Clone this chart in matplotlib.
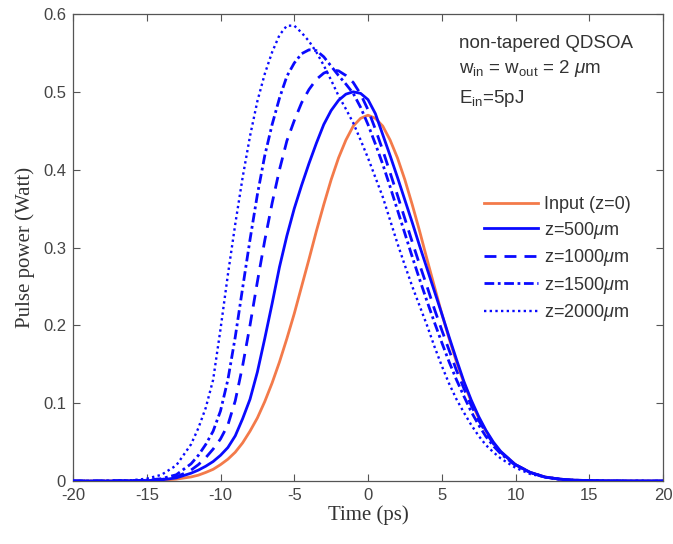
import matplotlib
matplotlib.use("Agg")
import matplotlib.pyplot as plt

plt.rcParams['font.family'] = ['Liberation Sans', 'DejaVu Sans']
plt.rcParams['mathtext.fontset'] = 'custom'
plt.rcParams['mathtext.rm'] = 'Liberation Sans'
plt.rcParams['mathtext.it'] = 'Liberation Sans:italic'
plt.rcParams['mathtext.bf'] = 'Liberation Sans:bold'

# ---- data ----
time_ps = [-20, -18, -16, -15, -14, -13, -12, -11.5, -11, -10.5, -10, -9.5, -9, -8.5,
           -8, -7.5, -7, -6.5, -6, -5.5, -5, -4.5, -4, -3.5, -3, -2.5, -2, -1.5, -1,
           -0.5, 0, 0.5, 1, 1.5, 2, 2.5, 3, 3.5, 4, 4.5, 5, 5.5, 6, 6.5, 7, 7.5, 8,
           8.5, 9, 10, 11, 12, 13, 14, 16, 18, 20]

p_input = [0, 0, 0.0002, 0.0004, 0.001, 0.0024, 0.0052, 0.0075, 0.011, 0.015, 0.021,
           0.028, 0.037, 0.049, 0.064, 0.081, 0.102, 0.126, 0.153, 0.183, 0.215, 0.250,
           0.285, 0.321, 0.355, 0.387, 0.415, 0.438, 0.456, 0.466, 0.470, 0.466, 0.456,
           0.438, 0.415, 0.387, 0.355, 0.321, 0.285, 0.250, 0.215, 0.183, 0.153, 0.126,
           0.102, 0.081, 0.064, 0.049, 0.037, 0.021, 0.011, 0.0052, 0.0024, 0.001, 0.0002,
           0, 0]

p_z500 = [0, 0, 0.0003, 0.0005, 0.0015, 0.004, 0.010, 0.014, 0.019, 0.025, 0.033,
          0.043, 0.058, 0.080, 0.105, 0.140, 0.183, 0.228, 0.275, 0.315, 0.350, 0.380,
          0.408, 0.434, 0.458, 0.476, 0.489, 0.497, 0.500, 0.498, 0.490, 0.472, 0.445,
          0.418, 0.390, 0.361, 0.332, 0.302, 0.273, 0.244, 0.215, 0.185, 0.156, 0.128,
          0.104, 0.083, 0.065, 0.050, 0.038, 0.021, 0.011, 0.005, 0.0024, 0.001, 0.0002,
          0, 0]

p_z1000 = [0, 0, 0.0003, 0.0007, 0.002, 0.005, 0.014, 0.021, 0.030, 0.041, 0.054,
           0.072, 0.103, 0.148, 0.200, 0.256, 0.309, 0.357, 0.400, 0.437, 0.463, 0.486,
           0.503, 0.516, 0.524, 0.528, 0.527, 0.521, 0.512, 0.497, 0.477, 0.452, 0.425,
           0.396, 0.367, 0.337, 0.307, 0.278, 0.250, 0.221, 0.194, 0.168, 0.142, 0.119,
           0.097, 0.078, 0.062, 0.048, 0.037, 0.021, 0.011, 0.005, 0.0024, 0.001, 0.0002,
           0, 0]

p_z1500 = [0, 0, 0.0004, 0.001, 0.003, 0.008, 0.022, 0.033, 0.047, 0.064, 0.090,
           0.130, 0.185, 0.248, 0.310, 0.368, 0.418, 0.458, 0.492, 0.520, 0.537, 0.549,
           0.554, 0.553, 0.545, 0.533, 0.521, 0.510, 0.498, 0.480, 0.458, 0.433, 0.407,
           0.378, 0.348, 0.318, 0.288, 0.259, 0.231, 0.204, 0.178, 0.153, 0.130, 0.109,
           0.089, 0.072, 0.057, 0.045, 0.035, 0.020, 0.011, 0.005, 0.0024, 0.001, 0.0002,
           0, 0]

p_z2000 = [0, 0, 0.001, 0.003, 0.008, 0.020, 0.047, 0.068, 0.094, 0.130, 0.195,
           0.265, 0.330, 0.390, 0.443, 0.488, 0.523, 0.551, 0.573, 0.585, 0.585, 0.576,
           0.565, 0.551, 0.534, 0.515, 0.495, 0.478, 0.460, 0.438, 0.415, 0.390, 0.365,
           0.335, 0.305, 0.277, 0.250, 0.225, 0.200, 0.173, 0.148, 0.125, 0.105, 0.088,
           0.072, 0.058, 0.046, 0.037, 0.029, 0.017, 0.009, 0.005, 0.002, 0.001, 0.0002,
           0, 0]

labels = ['Input (z=0)', r'z=500$\mu$m', r'z=1000$\mu$m', r'z=1500$\mu$m', r'z=2000$\mu$m']
xticks = [-20, -15, -10, -5, 0, 5, 10, 15, 20]
yticks = [0, 0.1, 0.2, 0.3, 0.4, 0.5, 0.6]
yticklabels = ['0', '0.1', '0.2', '0.3', '0.4', '0.5', '0.6']

# ---- figure ----
fig = plt.figure(figsize=(6.73, 5.44), dpi=100)
ax = fig.add_axes([73/673, 63/544, 590/673, 467/544])

orange = '#f37a4a'
blue = '#0a0aff'
ax.plot(time_ps, p_input, color=orange, lw=2.0, ls='-', label=labels[0], zorder=2)
ax.plot(time_ps, p_z500, color=blue, lw=2.0, ls='-', label=labels[1], zorder=3)
ax.plot(time_ps, p_z1000, color=blue, lw=2.0, ls=(0, (4.3, 2.9)), label=labels[2], zorder=3)
ax.plot(time_ps, p_z1500, color=blue, lw=2.0, ls=(0, (3.5, 1.3, 1.0, 1.3)), label=labels[3], zorder=3)
ax.plot(time_ps, p_z2000, color=blue, lw=1.7, ls=(0, (1, 1.4)), label=labels[4], zorder=3)

ax.set_xlim(-20, 20)
ax.set_ylim(0, 0.6)
ax.set_xticks(xticks)
ax.set_xticklabels([str(v) for v in xticks])
ax.set_yticks(yticks)
ax.set_yticklabels(yticklabels)

axis_col = '#555555'
for s in ax.spines.values():
    s.set_color(axis_col)
    s.set_linewidth(0.9)
ax.tick_params(direction='in', length=5, width=0.8, color=axis_col,
               labelcolor='#444444', labelsize=12, top=True, right=True, pad=5)

ax.set_xlabel('Time (ps)', fontfamily='Liberation Serif', fontsize=15, color='#333333', labelpad=2)
ax.set_ylabel('Pulse power (Watt)', fontfamily='Liberation Serif', fontsize=15, color='#333333', labelpad=6)

leg = ax.legend(loc='center left', bbox_to_anchor=(0.697, 0.474), frameon=False,
                fontsize=13, handlelength=3.0, handletextpad=0.3, labelspacing=0.36,
                borderpad=0.0, borderaxespad=0.0)
for t in leg.get_texts():
    t.set_color('#333333')

ann_col = '#333333'
ax.text(6.2, 0.556, 'non-tapered QDSOA', fontsize=13.5, color=ann_col, va='baseline', ha='left')
ax.text(6.2, 0.524, r'w$_{\mathrm{in}}$ = w$_{\mathrm{out}}$ = 2 $\mu$m', fontsize=13.5,
        color=ann_col, va='baseline', ha='left')
ax.text(6.2, 0.4855, r'E$_{\mathrm{in}}$=5pJ', fontsize=13.5, color=ann_col, va='baseline', ha='left')

fig.savefig('out.png', dpi=100)
